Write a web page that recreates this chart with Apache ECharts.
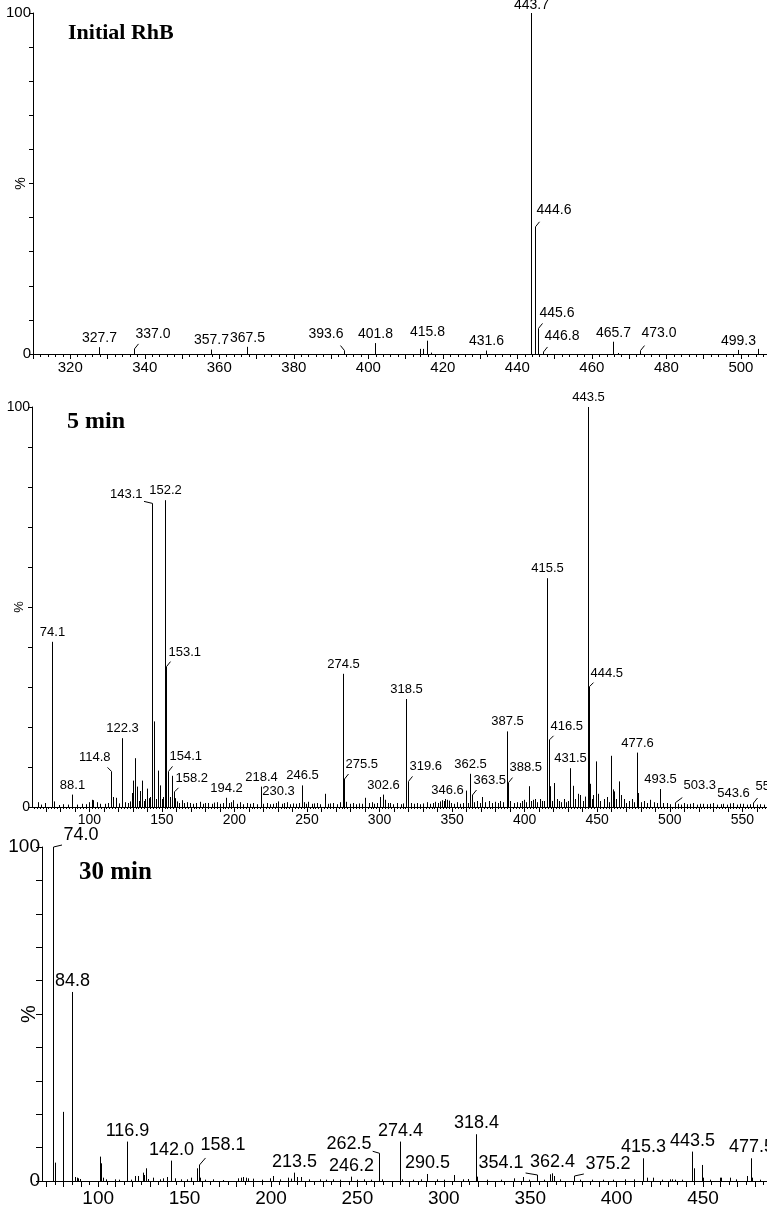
<!DOCTYPE html>
<html><head><meta charset="utf-8">
<script src="https://cdn.jsdelivr.net/npm/echarts@6/dist/echarts.min.js"></script>
<style>html,body{margin:0;padding:0;background:#fff}#c{width:767px;height:1207px}</style>
</head><body><div id="c"></div>
<script>
// ---------- DATA ----------
// Panel 1: Initial RhB
const rhbMz  = [327.7, 337.0, 357.7, 367.5, 393.6, 401.8, 413.9, 414.6, 415.8, 416.8, 431.6, 443.7, 444.6, 445.6, 446.8, 465.7, 467.0, 473.0, 499.3, 504.5];
const rhbPct = [2.0,   1.5,   1.3,   2.1,   1.0,   3.2,   1.5,   1.5,   3.9,   0.4,   1.0,   100,   37.3,  7.5,   0.6,   3.6,   0.3,   1.0,   1.2,   1.5];
const rhbLabeled = [327.7, 337.0, 357.7, 367.5, 393.6, 401.8, 415.8, 431.6, 443.7, 444.6, 445.6, 446.8, 465.7, 473.0, 499.3];
const rhbTickLabels = [320, 340, 360, 380, 400, 420, 440, 460, 480, 500];

// Panel 2: 5 min
const m5Mz = [64.4, 67.0, 69.5, 74.1, 75.7, 79.0, 82.0, 85.0, 88.1, 91.5, 95.0, 98.0, 100.0, 101.7, 102.8, 105.1, 107.5, 110.8, 113.0, 114.8,
  116.5, 118.4, 120.5, 122.3, 124.5, 126.5, 127.9, 129.2, 130.3, 131.5, 132.7, 134.0, 135.0, 136.1, 137.5, 138.5, 139.6, 141.0, 142.0, 143.1,
  144.8, 146.0, 147.2, 148.7, 150.0, 151.0, 152.2, 153.1, 154.1, 155.5, 156.8, 158.2, 159.3, 160.2, 161.5, 163.7, 165.5, 167.5, 169.4, 171.5,
  173.5, 176.3, 178.5, 180.0, 182.0, 184.5, 186.0, 187.8, 190.0, 192.0, 194.2, 196.0, 197.5, 199.3, 201.5, 203.9, 206.0, 208.5, 210.5, 213.1,
  215.5, 218.4, 220.0, 222.3, 224.5, 226.5, 228.5, 230.3, 232.5, 234.0, 236.1, 238.5, 240.5, 242.5, 244.5, 246.5, 248.0, 249.5, 251.0, 253.5,
  255.0, 256.8, 259.0, 262.5, 264.5, 266.0, 268.2, 270.5, 272.5, 274.5, 275.5, 277.0, 279.5, 282.0, 284.0, 286.0, 288.0, 290.0, 292.5, 294.7,
  296.5, 298.5, 300.4, 302.6, 304.0, 305.5, 307.4, 309.5, 312.0, 314.5, 316.5, 318.5, 319.6, 321.5, 323.5, 325.8, 328.0, 330.0, 332.7, 335.0,
  336.5, 338.4, 340.5, 341.5, 343.0, 344.2, 345.3, 346.6, 347.7, 349.5, 351.5, 353.4, 355.5, 357.5, 359.6, 361.0, 362.5, 363.5, 365.0, 367.2,
  369.0, 370.9, 373.0, 375.2, 377.5, 379.8, 381.5, 383.3, 385.0, 387.5, 388.5, 390.1, 392.5, 394.7, 396.5, 398.0, 399.3, 401.0, 403.0, 404.5,
  405.6, 406.8, 408.5, 410.8, 412.0, 413.1, 415.5, 416.5, 417.4, 419.0, 420.5, 422.0, 423.4, 425.0, 426.9, 428.5, 430.0, 431.5, 433.2, 434.5,
  436.6, 438.2, 440.0, 441.7, 443.5, 444.5, 445.3, 446.5, 447.4, 449.2, 450.4, 452.0, 454.4, 456.7, 458.0, 459.6, 460.7, 461.8, 463.0, 465.3,
  466.2, 468.2, 469.5, 471.6, 473.9, 475.5, 477.6, 478.4, 480.0, 481.9, 484.0, 486.5, 488.8, 491.0, 493.5, 495.5, 498.0, 500.0, 503.3, 505.5,
  507.5, 509.5, 512.0, 514.0, 516.3, 518.5, 521.0, 523.2, 525.5, 528.0, 530.1, 532.5, 535.0, 537.0, 539.5, 541.5, 543.6, 546.0, 548.5, 550.8,
  553.0, 555.5, 557.6, 560.0, 562.5, 565.0];
const m5Pct = [1.2, 0.6, 1.0, 41.3, 1.4, 0.5, 0.7, 0.6, 3.1, 0.6, 0.8, 0.7, 1.2, 1.8, 1.7, 1.2, 0.8, 0.8, 1.0, 8.9,
  2.5, 2.3, 0.9, 17.2, 1.2, 1.0, 1.4, 3.5, 6.6, 12.2, 5.1, 1.5, 4.0, 6.6, 1.5, 2.0, 4.6, 2.2, 2.5, 75.9,
  21.4, 2.0, 9.1, 5.4, 2.0, 2.5, 76.7, 35.1, 8.9, 2.5, 7.8, 3.8, 2.2, 1.4, 1.0, 1.7, 1.0, 1.2, 1.0, 0.8,
  1.0, 1.3, 0.8, 1.0, 1.0, 0.8, 1.1, 1.2, 0.8, 1.0, 2.3, 1.0, 1.2, 1.7, 0.8, 1.2, 0.7, 1.0, 0.8, 1.0,
  0.7, 5.1, 0.8, 1.0, 0.7, 0.8, 1.0, 1.4, 0.8, 1.0, 1.2, 0.7, 0.9, 0.8, 1.0, 5.4, 1.2, 0.8, 1.3, 0.8,
  0.9, 1.0, 0.7, 3.3, 0.8, 0.9, 1.0, 0.7, 1.2, 33.3, 7.0, 1.3, 0.8, 1.0, 0.7, 0.9, 0.8, 2.3, 1.0, 1.2,
  0.8, 1.0, 2.5, 3.1, 1.8, 1.0, 1.0, 0.7, 1.0, 0.7, 0.9, 27.0, 6.4, 1.0, 0.8, 1.0, 0.7, 0.9, 1.2, 0.8,
  1.0, 1.3, 1.0, 1.4, 1.7, 1.5, 2.0, 1.8, 1.6, 1.0, 0.8, 1.2, 0.8, 1.0, 4.1, 1.0, 8.3, 3.0, 1.2, 1.5,
  1.0, 2.5, 1.2, 1.5, 1.0, 1.3, 1.0, 1.5, 1.2, 18.9, 6.1, 1.5, 1.0, 1.2, 1.0, 1.5, 1.8, 1.2, 5.2, 1.5,
  1.8, 2.0, 1.2, 2.0, 1.5, 1.5, 57.2, 16.8, 5.2, 1.5, 6.0, 2.0, 1.5, 1.2, 2.0, 1.2, 1.5, 9.7, 5.3, 2.0,
  3.3, 3.0, 1.5, 2.6, 100, 30.1, 5.8, 2.0, 3.0, 11.4, 3.3, 1.5, 2.0, 2.5, 1.2, 12.8, 4.4, 3.9, 2.0, 6.4,
  3.0, 2.0, 1.0, 1.5, 2.0, 1.2, 13.6, 3.5, 1.2, 1.5, 1.0, 1.8, 1.2, 1.0, 4.5, 1.0, 1.0, 0.7, 1.1, 0.8,
  0.6, 1.0, 0.7, 0.8, 1.0, 0.6, 0.8, 0.8, 0.7, 0.8, 1.0, 0.6, 0.7, 0.8, 0.6, 0.9, 1.0, 0.6, 0.8, 0.8,
  0.6, 0.7, 1.0, 0.6, 0.7, 0.6];
const m5Labeled = [74.1, 88.1, 114.8, 122.3, 143.1, 152.2, 153.1, 154.1, 158.2, 194.2, 218.4, 230.3, 246.5, 274.5, 275.5, 302.6, 318.5,
  319.6, 346.6, 362.5, 363.5, 387.5, 388.5, 415.5, 416.5, 431.5, 443.5, 444.5, 477.6, 493.5, 503.3, 543.6, 557.6];
const m5TickLabels = [100, 150, 200, 250, 300, 350, 400, 450, 500, 550];

// Panel 3: 30 min
const m30Mz = [74.0, 75.0, 79.8, 84.8, 86.5, 87.5, 88.5, 89.5, 101.0, 101.6, 102.9, 104.5, 109.5, 112.0, 116.9, 119.0, 121.3, 123.2, 125.7, 126.5,
  127.6, 129.0, 131.8, 135.5, 137.6, 139.6, 142.0, 144.4, 148.0, 151.5, 154.0, 156.9, 158.1, 158.8, 162.0, 166.5, 172.0, 181.0, 182.5, 184.0,
  185.5, 186.5, 189.5, 195.0, 199.3, 201.2, 205.0, 210.0, 211.5, 213.5, 215.1, 217.6, 222.0, 228.2, 232.0, 235.7, 240.0, 246.2, 250.0, 254.0,
  258.0, 262.5, 264.0, 274.4, 276.0, 282.0, 287.0, 290.5, 296.0, 300.0, 306.0, 311.0, 314.0, 318.4, 319.2, 325.0, 333.0, 340.7, 345.9, 349.0,
  354.1, 358.0, 361.5, 362.4, 363.8, 367.0, 375.2, 379.0, 386.0, 392.0, 398.0, 405.0, 410.0, 415.3, 417.5, 421.0, 426.0, 430.6, 432.0, 434.0,
  438.0, 443.5, 444.5, 449.2, 450.2, 454.0, 459.6, 460.5, 465.5, 469.0, 475.2, 477.5, 478.5, 483.0];
const m30Pct = [100, 5.5, 20.7, 56.6, 1.2, 1.0, 0.8, 0.6, 7.3, 5.3, 1.0, 0.5, 0.5, 0.4, 11.8, 0.4, 1.5, 1.5, 2.5, 1.8,
  3.8, 0.6, 1.0, 0.5, 0.8, 1.2, 6.1, 0.8, 0.5, 0.5, 1.0, 3.8, 4.8, 1.0, 0.4, 0.5, 0.3, 0.8, 1.0, 1.2,
  1.0, 0.8, 0.7, 0.4, 0.8, 1.5, 0.5, 1.0, 0.7, 2.5, 1.2, 1.2, 0.5, 0.5, 0.4, 0.5, 0.4, 1.3, 0.4, 0.5,
  0.4, 8.3, 0.5, 11.8, 0.5, 0.4, 0.5, 2.1, 0.5, 0.4, 1.8, 0.5, 0.6, 14.0, 1.3, 0.4, 0.4, 0.8, 1.2, 0.4,
  1.8, 0.4, 2.0, 2.3, 1.5, 0.5, 1.5, 0.4, 0.4, 0.4, 0.4, 0.5, 0.5, 6.8, 1.0, 1.0, 0.4, 0.5, 0.5, 0.4,
  0.4, 8.8, 3.8, 4.8, 1.0, 0.4, 1.0, 1.0, 1.0, 0.5, 1.5, 6.8, 1.0, 0.4];
const m30Labeled = [74.0, 84.8, 116.9, 142.0, 158.1, 213.5, 246.2, 262.5, 274.4, 290.5, 318.4, 354.1, 362.4, 375.2, 415.3, 443.5, 477.5];
const m30TickLabels = [100, 150, 200, 250, 300, 350, 400, 450];

const yTickLabels = [0, 100];

// ---------- LAYOUT (label placement: [horizontal offset of label edge, gap above peak top]) ----------
const rhbLayout = {'337.0': [1, 8], '393.6': [-1, 9], '443.7': [0, 1], '444.6': [1, 10], '445.6': [1, 8], '446.8': [1, 9], '473.0': [1, 10]};
const m5Layout = {'114.8': [-1, 7], '143.1': [-10, 2], '153.1': [2, 8], '154.1': [1, 8], '158.2': [1, 7], '275.5': [1, 8], '319.6': [1, 8],
  '363.5': [1, 8], '388.5': [1, 9], '416.5': [1, 7], '444.5': [1, 7], '503.3': [8, 11], '557.6': [2, 10]};
const m30Layout = {'74.0': [10, 3], '158.1': [1, 11], '262.5': [-8, 0], '354.1': [-14, 3], '375.2': [11, 3]};

const SANS = '"Liberation Sans", Arial, sans-serif';
const SERIF = '"Liberation Serif", "Times New Roman", serif';

function range(a, b, s) { const o = []; for (let v = a; v <= b + 1e-9; v += s) o.push(+v.toFixed(3)); return o; }

const panels = [
  { title: 'Initial RhB', tl: {left: 68, top: 22, size: 22}, mz: rhbMz, pct: rhbPct, labeled: rhbLabeled, layout: rhbLayout,
    tickLabels: rhbTickLabels, grid: {left: 33, top: 13, width: 734, height: 341}, xmin: 310, xmax: 507,
    major: range(310, 500, 10), minor: range(310, 506, 2), majorLen: 5, minorLen: 3,
    labelFont: 14, axisFont: 15, yFont: 15, pctFont: 14, pctGap: 5, xMargin: 6, defDy: 2, hook: 4, yTickLen: 4 },
  { title: '5 min', tl: {left: 67, top: 410, size: 24}, mz: m5Mz, pct: m5Pct, labeled: m5Labeled, layout: m5Layout,
    tickLabels: m5TickLabels, grid: {left: 32, top: 407, width: 735, height: 400}, xmin: 60.5, xmax: 567,
    major: range(70, 560, 10), minor: range(62, 566, 2), majorLen: 5, minorLen: 2,
    labelFont: 13, axisFont: 14, yFont: 14, pctFont: 13, pctGap: 6, xMargin: 6, defDy: 3, hook: 4, yTickLen: 4 },
  { title: '30 min', tl: {left: 79, top: 860, size: 25}, mz: m30Mz, pct: m30Pct, labeled: m30Labeled, layout: m30Layout,
    tickLabels: m30TickLabels, grid: {left: 42, top: 847, width: 725, height: 334}, xmin: 67.5, xmax: 487,
    major: range(70, 480, 10), minor: range(70, 485, 5), majorLen: 6, minorLen: 4,
    labelFont: 18, axisFont: 19, yFont: 19, pctFont: 20, pctGap: 3, xMargin: 8, defDy: 2, hook: 6, yTickLen: 6 }
];

const option = { animation: false, backgroundColor: '#fff', title: [], grid: [], xAxis: [], yAxis: [], series: [] };
const axisLine = {show: true, lineStyle: {color: '#000', width: 1}};

panels.forEach((p, i) => {
  option.title.push({ text: p.title, left: p.tl.left, top: p.tl.top, padding: 0,
    textStyle: {fontFamily: SERIF, fontWeight: 'bold', fontSize: p.tl.size, color: '#000'} });
  option.grid.push(Object.assign({containLabel: false, outerBoundsMode: 'none'}, p.grid));
  // main x axis: major ticks + labels
  option.xAxis.push({ type: 'value', gridIndex: i, min: p.xmin, max: p.xmax, position: 'bottom',
    axisLine: axisLine, splitLine: {show: false},
    axisTick: {show: true, customValues: p.major, length: p.majorLen, lineStyle: {color: '#000'}},
    axisLabel: {customValues: p.tickLabels, margin: p.xMargin, fontFamily: SANS, fontSize: p.axisFont, color: '#000'} });
  // overlay x axis: minor ticks
  option.xAxis.push({ type: 'value', gridIndex: i, min: p.xmin, max: p.xmax, position: 'bottom', offset: 0,
    axisLine: {show: false}, splitLine: {show: false}, axisLabel: {show: false},
    axisTick: {show: true, customValues: p.minor, length: p.minorLen, lineStyle: {color: '#000'}} });
  option.yAxis.push({ type: 'value', gridIndex: i, min: 0, max: 100, interval: 10,
    axisLine: axisLine, splitLine: {show: false},
    axisTick: {show: true, length: p.yTickLen, lineStyle: {color: '#000'}},
    axisLabel: {customValues: yTickLabels, margin: 2, fontFamily: SANS, fontSize: p.yFont, color: '#000'},
    name: '%', nameLocation: 'middle', nameRotate: 90, nameGap: p.pctGap, nameMoveOverlap: false,
    nameTextStyle: {fontFamily: SANS, fontSize: p.pctFont, color: '#000'} });

  const xi = i * 2, yi = i;
  option.series.push({ type: 'custom', xAxisIndex: xi, yAxisIndex: yi, encode: {x: 0, y: 1}, z: 3,
    data: p.mz.map((m, k) => [m, p.pct[k]]),
    renderItem: (params, api) => {
      const a = api.coord([api.value(0), 0]);
      const b = api.coord([api.value(0), api.value(1)]);
      const x = Math.round(a[0]) + 0.5;
      return {type: 'line', shape: {x1: x, y1: a[1], x2: x, y2: b[1]}, style: {stroke: '#000', lineWidth: 1}};
    } });

  const labelData = p.labeled.map(m => {
    const k = p.mz.indexOf(m);
    const lay = p.layout[m.toFixed(1)] || [0, p.defDy];
    return [m, p.pct[k], lay[0], lay[1]];
  });
  option.series.push({ type: 'custom', xAxisIndex: xi, yAxisIndex: yi, encode: {x: 0, y: 1}, z: 5, clip: false,
    data: labelData,
    renderItem: (params, api) => {
      const m = api.value(0), v = api.value(1), hx = api.value(2), dy = api.value(3);
      const pt = api.coord([m, v]);
      const x = Math.round(pt[0]) + 0.5, y = pt[1];
      const txt = m.toFixed(1);
      const font = {fontFamily: SANS, fontSize: p.labelFont, fill: '#000'};
      if (hx === 0) {
        return {type: 'text', style: Object.assign({text: txt, x: x, y: y - dy, align: 'center', verticalAlign: 'bottom'}, font)};
      }
      const s = hx > 0 ? 1 : -1;
      const hxEnd = s * Math.max(Math.abs(hx) * 0.85, p.hook);
      const hyEnd = Math.min(Math.max(dy - 3, 2), p.hook + 1);
      return {type: 'group', children: [
        {type: 'polyline', shape: {points: [[x, y], [x + hxEnd, y - hyEnd]]}, style: {stroke: '#000', lineWidth: 1, fill: null}},
        {type: 'text', style: Object.assign({text: txt, x: x + hx, y: y - dy, align: s > 0 ? 'left' : 'right', verticalAlign: 'bottom'}, font)}
      ]};
    } });
});

const chart = echarts.init(document.getElementById('c'), null, {renderer: 'canvas'});
chart.setOption(option);
</script>
</body></html>
